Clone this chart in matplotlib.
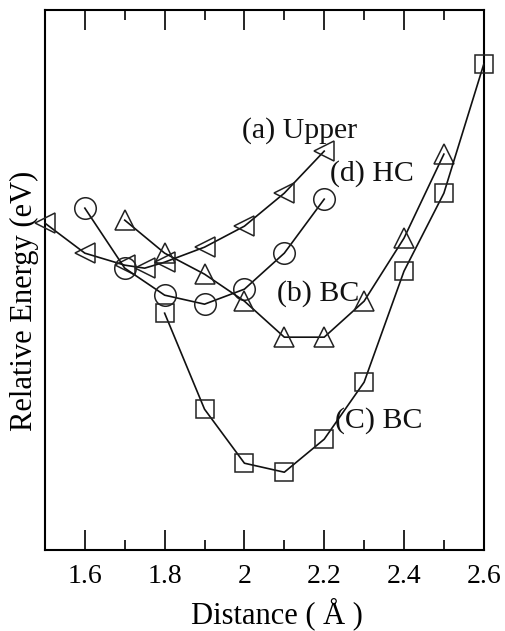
import numpy as np
import matplotlib
matplotlib.use('Agg')
import matplotlib.pyplot as plt
from matplotlib.ticker import MultipleLocator

plt.rcParams['font.family'] = ['Liberation Serif', 'DejaVu Serif']

# energies in arbitrary relative units (no y scale shown on the original)
x_upper = [1.5, 1.6, 1.7, 1.75, 1.8, 1.9, 2.0, 2.1, 2.2]
e_upper = [1.09, 0.99, 0.95, 0.94, 0.96, 1.01, 1.08, 1.19, 1.33]

x_hc = [1.6, 1.7, 1.8, 1.9, 2.0, 2.1, 2.2]
e_hc = [1.14, 0.94, 0.85, 0.82, 0.87, 0.99, 1.17]

x_bc_b = [1.7, 1.8, 1.9, 2.0, 2.1, 2.2, 2.3, 2.4, 2.5]
e_bc_b = [1.10, 0.99, 0.92, 0.83, 0.71, 0.71, 0.83, 1.04, 1.32]

x_bc_c = [1.8, 1.9, 2.0, 2.1, 2.2, 2.3, 2.4, 2.5, 2.6]
e_bc_c = [0.79, 0.47, 0.29, 0.26, 0.37, 0.56, 0.93, 1.19, 1.62]

labels = ['(a) Upper', '(d) HC', '(b) BC', '(C) BC']
label_x = [1.994, 2.214, 2.081, 2.227]
label_y = [1.40, 1.257, 0.857, 0.433]

fig = plt.figure(figsize=(5.05, 6.31), dpi=100)
ax = fig.add_axes([0.089, 0.128, 0.869, 0.856])

style = dict(color='#111111', lw=1.2, mfc='none', mec='#222222', mew=1.1,
             clip_on=False, zorder=3)
ax.plot(x_upper, e_upper, marker='<', ms=15, **style)
ax.plot(x_hc, e_hc, marker='o', ms=15.5, **style)
ax.plot(x_bc_b, e_bc_b, marker='^', ms=15, **style)
ax.plot(x_bc_c, e_bc_c, marker='s', ms=13, **style)

for t, tx, ty in zip(labels, label_x, label_y):
    ax.text(tx, ty, t, fontsize=21.5, ha='left', va='center', color='#111111')

ax.set_xlim(1.5, 2.6)
ax.set_ylim(0, 1.8)
ax.xaxis.set_minor_locator(MultipleLocator(0.1))
ax.set_xticks([1.6, 1.8, 2.0, 2.2, 2.4, 2.6])
ax.set_xticklabels(['1.6', '1.8', '2', '2.2', '2.4', '2.6'])
ax.set_yticks([])
ax.tick_params(axis='x', which='major', direction='in', length=14.5, width=1.2,
               top=True, labelsize=20, pad=10)
ax.tick_params(axis='x', which='minor', direction='in', length=7, width=1.2, top=True)
for s in ax.spines.values():
    s.set_linewidth(1.5)

ax.set_xlabel('Distance ( Å )', fontsize=22, va='center')
ax.set_ylabel('Relative Energy (eV)', fontsize=22, va='center')
ax.xaxis.set_label_coords(0.528, -0.117)
ax.yaxis.set_label_coords(-0.046, 0.461)

fig.savefig('out.png', dpi=100)
